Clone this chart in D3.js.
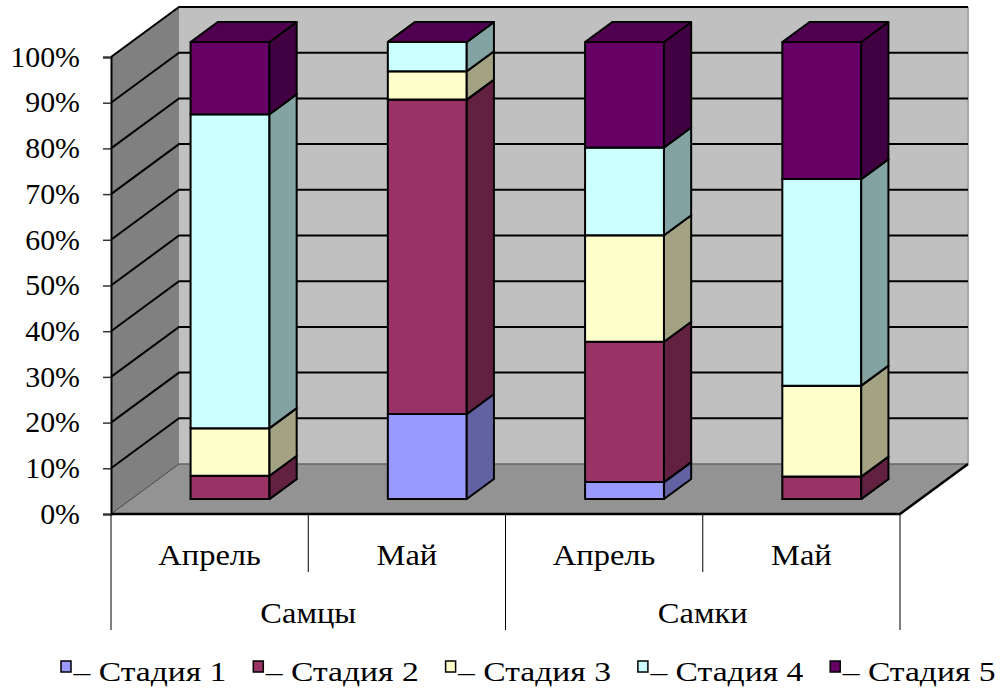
<!DOCTYPE html>
<html>
<head>
<meta charset="utf-8">
<script src="https://cdn.jsdelivr.net/npm/d3@7"></script>
<style>
  html, body { margin: 0; padding: 0; background: #ffffff; }
  svg { display: block; }
  svg text { font-family: "Times New Roman", "Liberation Serif", "DejaVu Serif", serif !important; fill: #000; }
</style>
</head>
<body>
<svg id="chart" width="1000" height="689"></svg>
<script>
// Month within each sex group
const months = ["Апрель", "Май", "Апрель", "Май"];
const groups = ["Самцы", "Самки"];
const stages = ["Стадия 1", "Стадия 2", "Стадия 3", "Стадия 4", "Стадия 5"];

// Share of each maturity stage, % per column
const stage1 = [0, 18.6, 3.7, 0];
const stage2 = [5.1, 68.8, 30.7, 4.9];
const stage3 = [10.4, 6.2, 23.3, 19.9];
const stage4 = [68.7, 6.4, 19.2, 45.2];
const stage5 = [15.8, 0, 23.1, 30.0];

const yTicks = [0, 0.1, 0.2, 0.3, 0.4, 0.5, 0.6, 0.7, 0.8, 0.9, 1.0];

const stageColors = ["#9999FF", "#993366", "#FFFFCC", "#CCFFFF", "#660066"];

const FONT = "'Times New Roman', 'Liberation Serif', 'DejaVu Serif', serif";

const svg = d3.select("#chart");

// Widen a text element horizontally by factor k (glyphs stretched, height kept)
function stretch(sel, k) {
  sel.each(function () {
    const w = this.getComputedTextLength();
    d3.select(this).attr("textLength", w * k).attr("lengthAdjust", "spacingAndGlyphs");
  });
}

// Front plane of the plot box
const x0 = 111, x1 = 900, yBottom = 514, yTop = 57;
// Depth of the box (oblique projection)
const depthDX = 68, depthDY = -50;

const x = d3.scaleBand().domain(d3.range(months.length)).range([x0, x1])
  .paddingInner(0.6).paddingOuter(0.3);
const xCat = d3.scaleBand().domain(d3.range(months.length)).range([x0, x1]);
const y = d3.scaleLinear().domain([0, 1]).range([yBottom, yTop]);

// Project a front-plane point back by a depth fraction
const P = (px, py, d) => [px + depthDX * d, py + depthDY * d];
const line = d3.line();
const poly = pts => line(pts) + "Z";

// ---- walls and floor ----
const walls = svg.append("g");
// back wall
walls.append("path")
  .attr("d", poly([P(x0, y(1), 1), P(x1, y(1), 1), P(x1, y(0), 1), P(x0, y(0), 1)]))
  .attr("fill", "#C0C0C0").attr("stroke", "none");
// side wall
walls.append("path")
  .attr("d", poly([[x0, y(1)], P(x0, y(1), 1), P(x0, y(0), 1), [x0, y(0)]]))
  .attr("fill", "#808080").attr("stroke", "none");
// floor
walls.append("path")
  .attr("d", poly([[x0, y(0)], [x1, y(0)], P(x1, y(0), 1), P(x0, y(0), 1)]))
  .attr("fill", "#939393").attr("stroke", "none");

// back wall right edge and floor/wall joint
walls.append("path")
  .attr("d", line([P(x1, y(1), 1), P(x1, y(0), 1)]))
  .attr("stroke", "#A8A8A8").attr("stroke-width", 2).attr("fill", "none");
walls.append("path")
  .attr("d", line([P(x0, y(0), 1), P(x1, y(0), 1)]))
  .attr("stroke", "#666").attr("stroke-width", 1.5).attr("fill", "none");
walls.append("path")
  .attr("d", line([[x0, y(0)], P(x0, y(0), 1)]))
  .attr("stroke", "#444").attr("stroke-width", 1).attr("fill", "none");

// gridlines on the side and back walls
const grid = svg.append("g");
yTicks.filter(t => t > 0 && t < 1).forEach(t => {
  grid.append("path")
    .attr("d", line([[x0, y(t)], P(x0, y(t), 1), P(x1, y(t), 1)]))
    .attr("stroke", "#000").attr("stroke-width", 2).attr("fill", "none");
});
// top edges of the box
grid.append("path")
  .attr("d", line([[x0, y(1)], P(x0, y(1), 1), P(x1, y(1), 1)]))
  .attr("stroke", "#000").attr("stroke-width", 2).attr("fill", "none");

// ---- stacked 3D bars ----
const rows = months.map((m, i) => ({
  idx: i,
  s0: stage1[i], s1: stage2[i], s2: stage3[i], s3: stage4[i], s4: stage5[i]
}));
const stack = d3.stack().keys(["s0", "s1", "s2", "s3", "s4"]).offset(d3.stackOffsetExpand);
const series = stack(rows);

const dFront = 0.3, dBack = 0.7;
const shade = (c, k) => d3.rgb(c).darker(k).formatHex();

const bars = svg.append("g");
rows.forEach((r, i) => {
  const bx0 = x(i), bx1 = x(i) + x.bandwidth();
  series.forEach((s, si) => {
    const [lo, hi] = s[i];
    const col = stageColors[si];
    const yl = y(lo), yh = y(hi);
    const g = bars.append("g")
      .attr("stroke", "#000").attr("stroke-width", 2).attr("stroke-linejoin", "round");
    // front face
    g.append("path")
      .attr("d", poly([P(bx0, yh, dFront), P(bx1, yh, dFront), P(bx1, yl, dFront), P(bx0, yl, dFront)]))
      .attr("fill", col);
    // right side face
    g.append("path")
      .attr("d", poly([P(bx1, yh, dFront), P(bx1, yh, dBack), P(bx1, yl, dBack), P(bx1, yl, dFront)]))
      .attr("fill", shade(col, 1.25));
    // top face
    g.append("path")
      .attr("d", poly([P(bx0, yh, dFront), P(bx1, yh, dFront), P(bx1, yh, dBack), P(bx0, yh, dBack)]))
      .attr("fill", shade(col, 0.65));
  });
});

// floor front edge and right edge
svg.append("path")
  .attr("d", line([[x0, y(0)], [x1, y(0)], P(x1, y(0), 1)]))
  .attr("stroke", "#000").attr("stroke-width", 2.5).attr("fill", "none");

// ---- value axis ----
const yAxis = svg.append("g").attr("transform", `translate(${x0},0)`)
  .call(d3.axisLeft(y).tickValues(yTicks).tickFormat(d3.format(".0%")).tickSize(8).tickPadding(23))
  .attr("font-family", FONT);
yAxis.select(".domain").attr("stroke", "#000").attr("stroke-width", 2);
yAxis.selectAll(".tick line").attr("stroke", "#333").attr("stroke-width", 1.5);
yAxis.selectAll(".tick text")
  .attr("font-family", FONT)
  .attr("font-size", 29).attr("fill", "#000")
  .call(stretch, 1.03);

// ---- category axis (two levels) ----
const cat = svg.append("g").attr("font-family", FONT);
const catTop = y(0);
months.forEach((m, i) => {
  cat.append("text")
    .attr("x", xCat(i) + xCat.bandwidth() / 2).attr("y", 565)
    .attr("text-anchor", "middle").attr("font-size", 29).text(m)
    .call(stretch, 1.12);
});
// separators between months inside a group
[1, 3].forEach(i => {
  cat.append("line").attr("x1", xCat(i)).attr("x2", xCat(i))
    .attr("y1", catTop).attr("y2", 572).attr("stroke", "#000").attr("stroke-width", 1);
});
// group separators
[0, 2, 4].forEach(i => {
  const xx = i < 4 ? xCat(i) : x1;
  cat.append("line").attr("x1", xx).attr("x2", xx)
    .attr("y1", catTop).attr("y2", 630).attr("stroke", "#000").attr("stroke-width", 1);
});
groups.forEach((gname, gi) => {
  const gx = (xCat(gi * 2) + xCat(gi * 2 + 1) + xCat.bandwidth()) / 2;
  cat.append("text")
    .attr("x", gx).attr("y", 623)
    .attr("text-anchor", "middle").attr("font-size", 29).text(gname)
    .call(stretch, 1.12);
});

// ---- legend ----
const legend = svg.append("g").attr("font-family", FONT);
stages.forEach((s, i) => {
  const lx = 61 + i * 192.3;
  legend.append("rect")
    .attr("x", lx).attr("y", 661).attr("width", 10).attr("height", 11)
    .attr("fill", stageColors[i]).attr("stroke", "#000").attr("stroke-width", 1.5);
  legend.append("text")
    .attr("x", lx + 12.5).attr("y", 681)
    .attr("font-size", 28).text("– " + s)
    .call(stretch, 1.2);
});
</script>
</body>
</html>
